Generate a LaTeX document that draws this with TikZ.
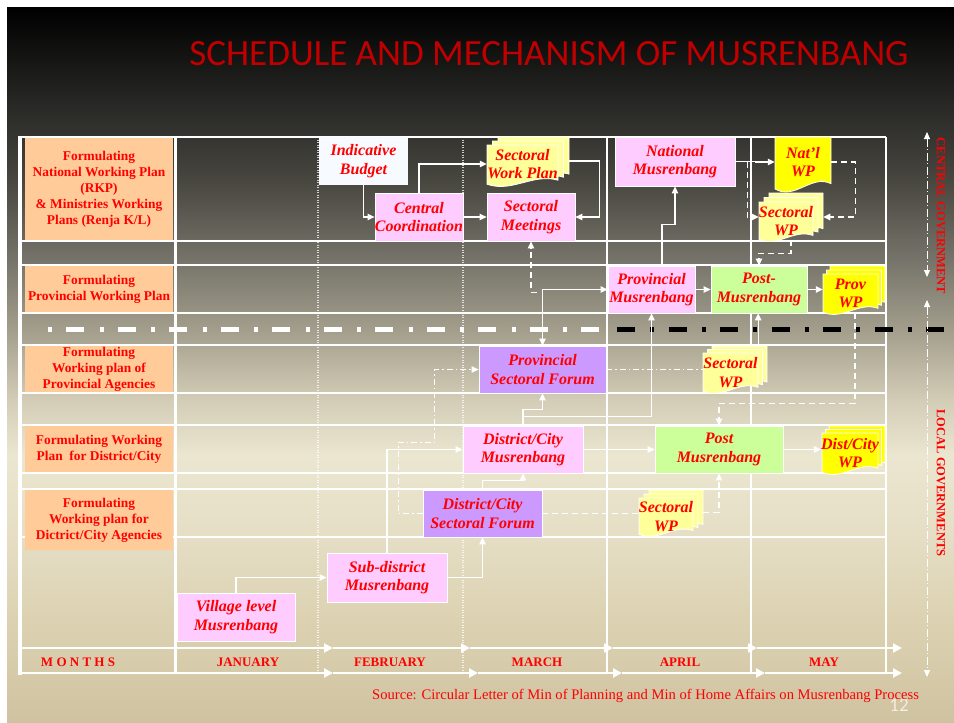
\documentclass[tikz,border=0pt]{standalone}
\usepackage{fontspec}
\setmainfont{Liberation Serif}
\newfontfamily\titlefont{Carlito}
\usetikzlibrary{arrows.meta,calc}

\definecolor{titlered}{HTML}{C00000}
\definecolor{txtred}{HTML}{FF0000}
\definecolor{peach}{HTML}{FFCC99}
\definecolor{pinkbox}{HTML}{FFCCFF}
\definecolor{purplebox}{HTML}{CC99FF}
\definecolor{greenbox}{HTML}{CCFF99}
\definecolor{yellowdoc}{HTML}{FFFF00}
\definecolor{paledoc}{HTML}{FFFF99}
\definecolor{budgetbox}{HTML}{F7FBFF}
\definecolor{pagenum}{HTML}{F4EEDD}
% background gradient stops
\definecolor{g0}{HTML}{000000}
\definecolor{g1}{HTML}{262624}
\definecolor{g2}{HTML}{47463F}
\definecolor{g3}{HTML}{76746A}
\definecolor{g4}{HTML}{A39E8C}
\definecolor{g5}{HTML}{D3CDB7}
\definecolor{g6}{HTML}{EBE6D0}
\definecolor{g7}{HTML}{E6DFC6}
\definecolor{g8}{HTML}{DCD2B2}
\definecolor{g9}{HTML}{CFC2A0}

% one sheet of a document symbol with a wavy lower edge
\newcommand\docsheet[5]{%
  \pgfmathsetmacro\dw{#3-#1}\pgfmathsetmacro\dh{#4-#2}%
  \filldraw[fill=#5,draw=white,line width=0.8pt]
    (#1,#2) -- (#3,#2) -- (#3,#4-0.12*\dh)
    .. controls (#1+0.65*\dw,#4-0.3*\dh) and (#1+0.35*\dw,#4+0.2*\dh) .. (#1,#4-0.02*\dh) -- cycle;}
% a stack of three sheets: l t r b, offset dx dy, colour
\newcommand\docpile[7]{%
  \docsheet{#1+2*#5}{#2+2*#6}{#3+2*#5}{#4+2*#6}{#7}%
  \docsheet{#1+#5}{#2+#6}{#3+#5}{#4+#6}{#7}%
  \docsheet{#1}{#2}{#3}{#4}{#7}}

\begin{document}
\begin{tikzpicture}[x=1pt,y=-1pt,
  lbl/.style={fill=peach,text=txtred,inner sep=0pt,align=center,
    minimum width=148pt,font=\fontsize{13.4}{16}\selectfont\bfseries},
  box/.style={draw=white,line width=0.8pt,text=txtred,inner sep=0pt,align=center,
    font=\fontsize{16}{18.5}\selectfont\bfseries\itshape},
  doctext/.style={text=txtred,inner sep=0pt,align=center,
    font=\fontsize{16}{18.5}\selectfont\bfseries\itshape},
  month/.style={text=txtred,inner sep=0pt,font=\fontsize{13}{15}\selectfont\bfseries},
  govlabel/.style={text=txtred,inner sep=0pt,rotate=-90,font=\fontsize{12.5}{14}\selectfont\bfseries},
  rowline/.style={white,line width=1.3pt},
  colline/.style={white,line width=2pt},
  conn/.style={white,line width=1.2pt},
  tip/.style={-{Triangle[length=7pt,width=6.5pt]}},
  arr/.style={conn,tip},
  arrboth/.style={conn,{Triangle[length=7pt,width=6.5pt]}-{Triangle[length=7pt,width=6.5pt]}},
  dsh/.style={conn,dash pattern=on 6pt off 4pt},
  darr/.style={dsh,tip},
  ddot/.style={conn,line width=1pt,dash pattern=on 6pt off 3pt on 1.5pt off 3pt},
  ddarr/.style={ddot,tip},
  timearrow/.style={white,line width=2.6pt,-{Triangle[length=9pt,width=9pt]}},
  govarrow/.style={white,line width=0.9pt,dash pattern=on 8pt off 2.5pt on 1pt off 2.5pt,
    {Triangle[length=7pt,width=6pt]}-{Triangle[length=7pt,width=6pt]}}
]
\useasboundingbox (0,0) rectangle (954,723);

% ---- slide background ----
\fill[white] (0,0) rectangle (954,723);
\foreach \ya/\ca/\yb/\cb in {8/g0/100/g1,100/g1/180/g2,180/g2/260/g3,260/g3/330/g4,
    330/g4/400/g5,400/g5/455/g6,455/g6/530/g7,530/g7/620/g8,620/g8/723/g9}
  \shade[top color=\ca,bottom color=\cb] (7,\ya-0.3) rectangle (954,\yb+0.3);

\node[font=\titlefont\fontsize{37}{40}\selectfont,text=titlered,anchor=base,inner sep=0pt]
  (title) at (549,65) {SCHEDULE AND MECHANISM OF MUSRENBANG};

% ---- schedule grid ----
\foreach \y in {241,265,313,345,393,425,473,489,537}
  \draw[rowline] (20,\y) -- (886,\y);
\draw[colline] (20,137) -- (886,137);
\foreach \x in {318,463}
  \draw[white,opacity=0.75,line width=1.1pt,dash pattern=on 1pt off 1.5pt] (\x,137) -- (\x,673);
\foreach \x in {607,751,886}
  \draw[colline] (\x,137) -- (\x,673);
\draw[white,line width=3.2pt] (20,135.5) -- (20,674.5);
\draw[white,line width=3pt] (175,137) -- (175,673);

% border between central and local government
\draw[white,line width=5pt,dash pattern=on 4pt off 14pt on 18pt off 15.5pt] (48,329) -- (600,329);
\draw[black,line width=5pt,dash pattern=on 18pt off 15pt on 4pt off 14.5pt] (617,329) -- (944,329);

% ---- row titles ----
\node[lbl,minimum height=102pt] (rowA) at (99,189)
  {Formulating\\National Working Plan\\(RKP)\\\& Ministries Working\\Plans (Renja K/L)};
\node[lbl,minimum height=46pt] (rowB) at (99,289) {Formulating\\Provincial Working Plan};
\node[lbl,minimum height=46pt] (rowC) at (99,369) {Formulating\\Working plan of\\Provincial Agencies};
\node[lbl,minimum height=46pt] (rowD) at (99,449) {Formulating Working\\Plan\ \ for District/City};
\node[lbl,minimum height=60pt] (rowE) at (99,520) {Formulating\\Working plan for\\Dictrict/City Agencies};

% ---- months ----
\draw[timearrow] (20,648) -- (333,648);
\draw[timearrow] (333,648) -- (470,648);
\draw[timearrow] (470,648) -- (613,648);
\draw[timearrow] (613,648) -- (757,648);
\draw[timearrow] (757,648) -- (902,648);
\draw[timearrow] (20,673) -- (333,673);
\draw[timearrow] (333,673) -- (478,673);
\draw[timearrow] (478,673) -- (622,673);
\draw[timearrow] (622,673) -- (765,673);
\draw[timearrow] (765,673) -- (902,673);
\node[month] (mLabel) at (78,662) {M O N T H S};
\node[month] (mJan) at (248,662) {JANUARY};
\node[month] (mFeb) at (390,662) {FEBRUARY};
\node[month] (mMar) at (537,662) {MARCH};
\node[month] (mApr) at (680,662) {APRIL};
\node[month] (mMay) at (824,662) {MAY};

% ---- central level ----
\node[box,draw=none,fill=budgetbox,minimum width=89pt,minimum height=48pt] (budget) at (363.5,161) {Indicative\\Budget};
\node[box,fill=pinkbox,minimum width=88pt,minimum height=48pt] (cc) at (419,217) {Central\\Coordination};
\docpile{487}{145}{558}{185}{5.5}{-4}{paledoc}
\node[doctext,minimum width=71pt,minimum height=40pt] (swp) at (522.5,164) {Sectoral\\Work Plan};
\node[box,fill=pinkbox,minimum width=88pt,minimum height=48pt] (sm) at (531,217) {Sectoral\\Meetings};
\node[box,fill=pinkbox,minimum width=120pt,minimum height=49pt] (nm) at (675,161.5) {National\\Musrenbang};
\docsheet{775}{137}{831}{190}{yellowdoc}
\node[doctext,minimum width=56pt,minimum height=46pt] (nwp) at (803,162) {Nat’l\\WP};
\docpile{759}{202}{813}{240}{5}{-4.5}{paledoc}
\node[doctext,minimum width=54pt,minimum height=38pt] (cswp) at (786,221) {Sectoral\\WP};

% ---- provincial level ----
\node[box,fill=pinkbox,minimum width=87pt,minimum height=47pt] (pm) at (651.5,289.5) {Provincial\\Musrenbang};
\node[box,fill=greenbox,minimum width=96pt,minimum height=47pt] (ppm) at (759,289.5) {Post-\\Musrenbang};
\docpile{823}{274}{878}{313}{3.5}{-4}{yellowdoc}
\node[doctext,minimum width=55pt,minimum height=39pt] (pwp) at (850.5,293.5) {Prov\\WP};
\node[box,fill=purplebox,minimum width=127pt,minimum height=47pt] (psf) at (542.5,369.5) {Provincial\\Sectoral Forum};
\docpile{703}{353}{758}{392}{4.5}{-3.5}{paledoc}
\node[doctext,minimum width=55pt,minimum height=39pt] (pswp) at (730.5,372.5) {Sectoral\\WP};

% ---- district / city level ----
\node[box,fill=pinkbox,minimum width=120pt,minimum height=47pt] (dcm) at (523,449.5) {District/City\\Musrenbang};
\node[box,fill=purplebox,minimum width=119pt,minimum height=47pt] (dcsf) at (482.5,513.5) {District/City\\Sectoral Forum};
\docpile{639}{498}{693}{535}{5}{-4}{paledoc}
\node[doctext,minimum width=54pt,minimum height=37pt] (dswp) at (666,516.5) {Sectoral\\WP};
\node[box,fill=greenbox,minimum width=128pt,minimum height=47pt] (dpm) at (719,449.5) {Post\\Musrenbang};
\docpile{822}{433}{878}{473}{3.5}{-3.5}{yellowdoc}
\node[doctext,minimum width=56pt,minimum height=40pt] (dwp) at (850,453) {Dist/City\\WP};
\node[box,fill=pinkbox,minimum width=120pt,minimum height=49pt] (sdm) at (387,577.5) {Sub-district\\Musrenbang};
\node[box,fill=pinkbox,minimum width=118pt,minimum height=48pt] (vm) at (236,617) {Village level\\Musrenbang};

% ---- flows, central level ----
\draw[arr] (budget.south) |- (cc.west);
\draw[arr] (cc.north) |- (swp.west);
\draw[arr] (cc.east) -- (sm.west);
\draw[arr] ($(swp.east)+(11,-3)$) -- ++(30,0) |- (sm.east);
\draw[arr] (nm.east) -- ++(20,0) |- (nwp.west);
\draw[darr] ($(nm.east)+(12,0)$) |- ($(cswp.west)+(0,-4)$);
\draw[darr] (nwp.east) -- ++(24,0) |- ($(cswp.east)+(10,-4)$);
\draw[darr] ($(cswp.south)+(5,0)$) -- ++(0,13) -| (ppm.north);

% ---- flows, provincial level ----
\draw[arr] (pm.east) -- (ppm.west);
\draw[arr] (ppm.east) -- (ppm.east -| pwp.west);
\draw[arr] ($(pm.north)+(10.5,0)$) -- ++(0,-41) -| (nm.south);
\draw[darr] ($(pwp.south)+(4.5,0)$) -- ++(0,90) -| (dpm.north);
\draw[darr] ($(sm.south)+(6,51)$) -- ++(-6,0) -- (sm.south);
\draw[arrboth] (psf.north) |- (pm.west);
\draw[ddot] (psf.east) -- (psf.east -| pswp.west);
\draw[arr] ($(pswp.north east)+(0,-7)$) -- (ppm.south -| pswp.north east);

% ---- flows, district / city level ----
\draw[arr] (dcm.north) -- ++(0,-16) -| (psf.south);
\draw[arr] (dcm.north) -- ++(0,-9) -| (pm.south);
\draw[arr] (dcsf.north) -- ++(0,-9) -| (dcm.south);
\draw[ddarr] (dcsf.west) -- ++(-24,0) |- ++(36,-71.5) |- (psf.west);
\draw[dsh] (dcsf.east) -- (dcsf.east -| dswp.west);
\draw[darr] ($(dswp.east)+(10,-4)$) -| (dpm.south);
\draw[arr] (dcm.east) -- (dpm.west);
\draw[arr] (dpm.east) -- (dpm.east -| dwp.west);
\draw[arr] (vm.north) |- (sdm.west);
\draw[arr] (sdm.east) -| (dcsf.south);
\draw[arr] (sdm.north) |- (dcm.west);

% ---- levels of government ----
\draw[govarrow] (927,132) -- (927,277);
\draw[govarrow] (927,300) -- (927,677);
\node[govlabel] (central) at (941,216) {CENTRAL GOVERNMENT};
\node[govlabel] (local) at (941,483) {LOCAL GOVERNMENTS};

% ---- footer ----
\node[font=\titlefont\fontsize{19}{20}\selectfont,text=pagenum,inner sep=0pt] (pgno) at (899,705) {12};
\node[anchor=base west,inner sep=0pt,text=txtred,font=\fontsize{14.6}{16}\selectfont] (source) at (372,699)
  {Source: Circular Letter of Min of Planning and Min of Home Affairs on Musrenbang Process};
\end{tikzpicture}
\end{document}
